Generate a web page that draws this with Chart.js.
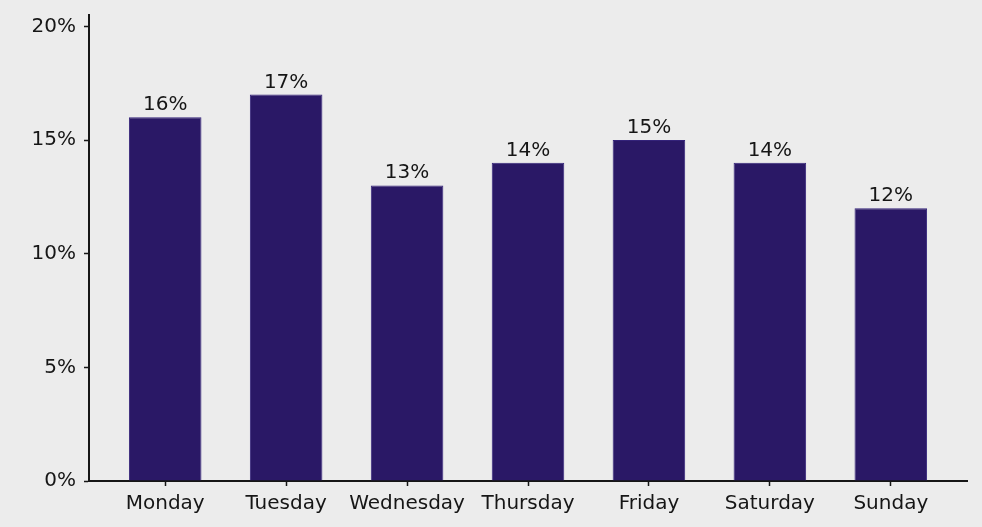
<!DOCTYPE html>
<html>
<head>
<meta charset="utf-8">
<script src="https://cdn.jsdelivr.net/npm/chart.js@4.4.1/dist/chart.umd.min.js"></script>
<style>
  html, body { margin: 0; padding: 0; background: #ececec; }
  #wrap { width: 982px; height: 527px; position: relative; }
</style>
</head>
<body>
<div id="wrap"><canvas id="c" width="982" height="527"></canvas></div>
<script>
// Share of activity by weekday (percent)
const days = ['Monday', 'Tuesday', 'Wednesday', 'Thursday', 'Friday', 'Saturday', 'Sunday'];
const shares = [16, 17, 13, 14, 15, 14, 12];
const yTicks = [0, 5, 10, 15, 20];

const FONT = 'DejaVu Sans';
const INK = '#161616';

// Writes the percentage above each bar
const valueLabels = {
  id: 'valueLabels',
  afterDatasetsDraw(chart) {
    const ctx = chart.ctx;
    const meta = chart.getDatasetMeta(0);
    ctx.save();
    ctx.font = '20px "' + FONT + '"';
    ctx.fillStyle = INK;
    ctx.textAlign = 'center';
    ctx.textBaseline = 'alphabetic';
    meta.data.forEach((bar, i) => {
      ctx.fillText(shares[i] + '%', bar.x, bar.y - 7);
    });
    ctx.restore();
  }
};

new Chart(document.getElementById('c'), {
  type: 'bar',
  data: {
    datasets: [{
      data: shares.map((v, i) => ({ x: i, y: v })),
      backgroundColor: '#2a1866',
      borderColor: '#34237a',
      borderWidth: 1,
      categoryPercentage: 1,
      barPercentage: 0.6
    }]
  },
  options: {
    responsive: false,
    animation: false,
    layout: { padding: { left: 0, right: 15, top: 15, bottom: 0 } },
    plugins: { legend: { display: false }, tooltip: { enabled: false } },
    scales: {
      x: {
        type: 'linear',
        offset: false,
        min: -0.63,
        max: 6.63,
        afterBuildTicks: (s) => { s.ticks = days.map((_, i) => ({ value: i })); },
        afterFit: (s) => { s.height = 46; s.paddingLeft = 0; s.paddingRight = 0; },
        grid: { display: true, drawOnChartArea: false, drawTicks: true, tickLength: 5, tickWidth: 1.5, tickColor: INK, offset: false },
        border: { display: true, color: INK, width: 2 },
        ticks: {
          autoSkip: false,
          maxRotation: 0,
          padding: 6,
          color: INK,
          font: { family: FONT, size: 20 },
          callback: (v) => days[v] ?? ''
        }
      },
      y: {
        min: 0,
        max: 20.5,
        afterBuildTicks: (s) => { s.ticks = yTicks.map(v => ({ value: v })); },
        afterFit: (s) => { s.width = 89; s.paddingTop = 0; s.paddingBottom = 0; },
        grid: { display: true, drawOnChartArea: false, drawTicks: true, tickLength: 5, tickWidth: 1.5, tickColor: INK },
        border: { display: true, color: INK, width: 2 },
        ticks: {
          padding: 8,
          color: INK,
          font: { family: FONT, size: 20 },
          callback: (v) => v + '%'
        }
      }
    }
  },
  plugins: [valueLabels]
});
</script>
</body>
</html>
